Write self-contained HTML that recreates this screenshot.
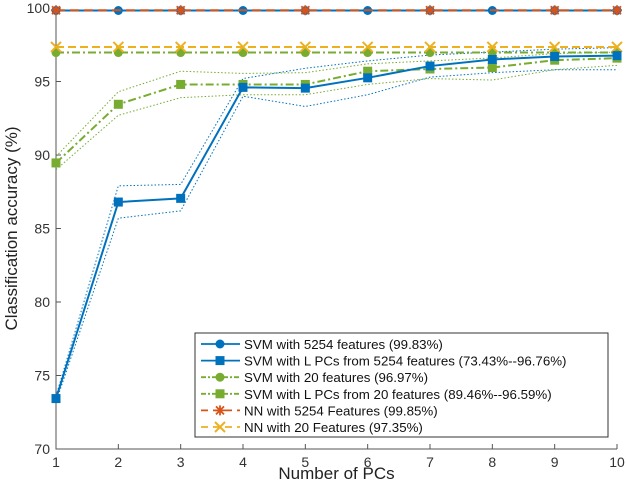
<!DOCTYPE html>
<html><head><meta charset="utf-8"><style>
body{margin:0;background:#fff;}
svg text{font-family:"Liberation Sans",sans-serif;}
</style></head><body>
<svg id="chart" width="626" height="490"></svg>
<script>
const xs=[1,2,3,4,5,6,7,8,9,10];
const svm5254=[99.83,99.83,99.83,99.83,99.83,99.83,99.83,99.83,99.83,99.83];
const svmPC5254=[73.43,86.8,87.05,94.6,94.55,95.25,96.05,96.5,96.7,96.76];
const svmPC5254Hi=[73.6,87.9,88.0,95.2,95.9,96.4,96.8,97.0,97.2,97.3];
const svmPC5254Lo=[73.2,85.7,86.2,94.0,93.3,94.1,95.3,95.6,95.8,95.8];
const svm20=[96.97,96.97,96.97,96.97,96.97,96.97,96.97,96.97,96.97,96.97];
const svmPC20=[89.46,93.45,94.8,94.8,94.8,95.7,95.85,95.95,96.45,96.59];
const svmPC20Hi=[89.9,94.3,95.7,95.55,95.6,96.2,96.4,96.6,96.9,97.0];
const svmPC20Lo=[89.0,92.7,93.9,94.1,94.1,94.8,95.2,95.1,95.8,96.1];
const nn5254=[99.85,99.85,99.85,99.85,99.85,99.85,99.85,99.85,99.85,99.85];
const nn20=[97.35,97.35,97.35,97.35,97.35,97.35,97.35,97.35,97.35,97.35];
const yTicks=[70,75,80,85,90,95,100];
const legendLabels=["SVM with 5254 features (99.83%)","SVM with L PCs from 5254 features (73.43%--96.76%)","SVM with 20 features (96.97%)","SVM with L PCs from 20 features (89.46%--96.59%)","NN with 5254 Features (99.85%)","NN with 20 Features (97.35%)"];

const L=56,R=617,T=8,B=449;
const X=v=>L+(v-1)/9*(R-L);
const Y=v=>B-(v-70)/30*(B-T);
const svg=document.getElementById('chart');
const NS='http://www.w3.org/2000/svg';
function mk(tag,attrs,parent){const e=document.createElementNS(NS,tag);for(const k in attrs)e.setAttribute(k,attrs[k]);(parent||svg).appendChild(e);return e;}
const BLUE='#0072BD',GREEN='#77AC30',RED='#D95319',YEL='#EDB120';

let ax=mk('path',{d:`M${L} ${T}V${B}H${R}`,stroke:'#555',fill:'none','stroke-width':1});


yTicks.forEach(t=>{
 mk('line',{x1:L,x2:L+5,y1:Y(t),y2:Y(t),stroke:'#555'});
 const tx=mk('text',{x:L-6,y:Y(t)+5,'text-anchor':'end','font-size':14,fill:'#333'});tx.textContent=t;
 
 
});
xs.forEach(t=>{
 mk('line',{x1:X(t),x2:X(t),y1:B,y2:B-5,stroke:'#555'});
 const tx=mk('text',{x:X(t),y:B+18,'text-anchor':'middle','font-size':14,fill:'#333'});tx.textContent=t;
 
 
});
let xt=mk('text',{x:(L+R)/2,y:479,'text-anchor':'middle','font-size':17,fill:'#222'});xt.textContent='Number of PCs';


let yt=mk('text',{x:0,y:0,transform:`translate(17,${(T+B)/2}) rotate(-90)`,'text-anchor':'middle','font-size':17,fill:'#222'});yt.textContent='Classification accuracy (%)';



function line(vals,color,dash,w,name){
 const d=vals.map((v,i)=>(i?'L':'M')+X(xs[i])+' '+Y(v)).join('');
 const p=mk('path',{d,stroke:color,fill:'none','stroke-width':w,'stroke-dasharray':dash});
 
 
}
function marker(g,type,x,y,color){
 if(type==='o')mk('circle',{cx:x,cy:y,r:4.5,fill:color},g);
 else if(type==='s')mk('rect',{x:x-4.5,y:y-4.5,width:9,height:9,fill:color},g);
 else if(type==='*'){mk('path',{d:`M${x-5} ${y}H${x+5}M${x} ${y-5}V${y+5}M${x-4} ${y-4}L${x+4} ${y+4}M${x-4} ${y+4}L${x+4} ${y-4}`,stroke:color,'stroke-width':1.8},g);}
 else if(type==='x'){mk('path',{d:`M${x-5} ${y-5}L${x+5} ${y+5}M${x-5} ${y+5}L${x+5} ${y-5}`,stroke:color,'stroke-width':2},g);}
}
function markers(vals,type,color,name,keep){
 const g=mk('g',{});
 
 
 vals.forEach((v,i)=>{if(!keep||keep(i))marker(g,type,X(xs[i]),Y(v),color);});
}
line(svmPC5254Hi,BLUE,'1.5 2',1,'svm-pc5254-upper-bound');
line(svmPC5254Lo,BLUE,'1.5 2',1,'svm-pc5254-lower-bound');
line(svmPC20Hi,GREEN,'1.5 2',1,'svm-pc20-upper-bound');
line(svmPC20Lo,GREEN,'1.5 2',1,'svm-pc20-lower-bound');
line(svm20,GREEN,'8 3 2 3',2,'svm-20-line');markers(svm20,'o',GREEN,'svm-20-markers');
line(nn20,YEL,'8 4',2,'nn-20-line');markers(nn20,'x',YEL,'nn-20-markers');
line(svmPC20,GREEN,'8 3 2 3',2,'svm-pc20-line');markers(svmPC20,'s',GREEN,'svm-pc20-markers');
line(svmPC5254,BLUE,'',2,'svm-pc5254-line');markers(svmPC5254,'s',BLUE,'svm-pc5254-markers');
line(svm5254,BLUE,'',2,'svm-5254-line');markers(svm5254,'o',BLUE,'svm-5254-markers');
line(nn5254,RED,'9 5',2,'nn-5254-line');markers(nn5254,'*',RED,'nn-5254-markers',i=>i%2==0||i==9);

const lg=mk('g',{});


mk('rect',{x:195,y:333,width:413,height:104,fill:'#fff',stroke:'#333','stroke-width':1},lg);
const styles=[[BLUE,'','o'],[BLUE,'','s'],[GREEN,'5 2 2 2','o'],[GREEN,'5 2 2 2','s'],[RED,'7 5','*'],[YEL,'7 5','x']];
legendLabels.forEach((lab,i)=>{
 const y=344+i*16.6;
 const e=mk('g',{},lg);
 
 
 mk('line',{x1:201,x2:240,y1:y,y2:y,stroke:styles[i][0],'stroke-width':1.8,'stroke-dasharray':styles[i][1]},e);
 marker(e,styles[i][2],220,y,styles[i][0]);
 const t=mk('text',{x:244,y:y+5,'font-size':13.3,fill:'#111'},e);t.textContent=lab;
});
</script>
</body></html>
